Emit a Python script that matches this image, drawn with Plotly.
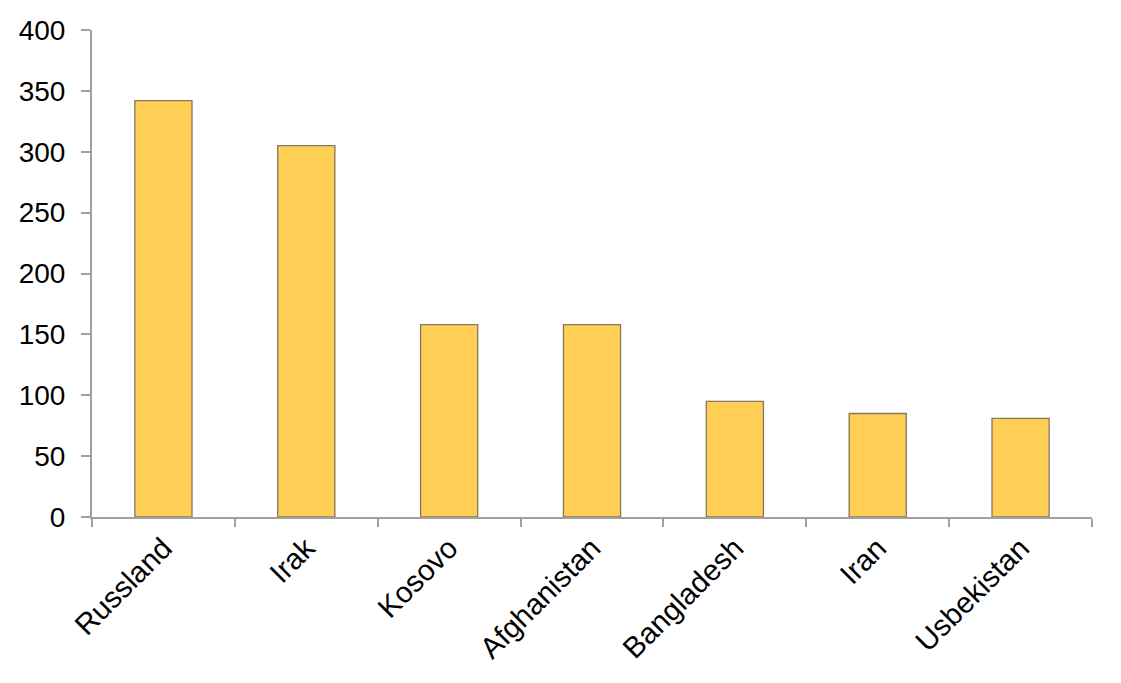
import plotly.graph_objects as go

countries = ["Russland", "Irak", "Kosovo", "Afghanistan", "Bangladesh", "Iran", "Usbekistan"]
values = [342, 305, 158, 158, 95, 85, 81]

fig = go.Figure(go.Bar(
    x=countries, y=values,
    marker=dict(color="#FFCE54", line=dict(color="#857760", width=1.3)),
))

fig.update_layout(
    width=1121, height=683,
    margin=dict(l=84, r=37, t=22, b=174, autoexpand=False),
    paper_bgcolor="white", plot_bgcolor="white",
    bargap=0.6,
    showlegend=False,
    font=dict(family="Liberation Sans, Arial, sans-serif", size=28, color="black"),
)
fig.update_xaxes(
    showline=True, linecolor="#A0A0A0", linewidth=2,
    ticks="outside", tickson="boundaries", ticklen=8, tickcolor="#A0A0A0", tickwidth=2,
    tickangle=-45, showgrid=False, automargin=False,
    tickfont=dict(size=29.5),
)
fig.update_yaxes(
    range=[0, 400], dtick=50,
    showline=True, linecolor="#A0A0A0", linewidth=2,
    ticks="outside", ticklen=9, tickcolor="#A0A0A0", tickwidth=2,
    showgrid=False, zeroline=False, ticklabelstandoff=10, automargin=False,
)

fig.write_html("out.html")
